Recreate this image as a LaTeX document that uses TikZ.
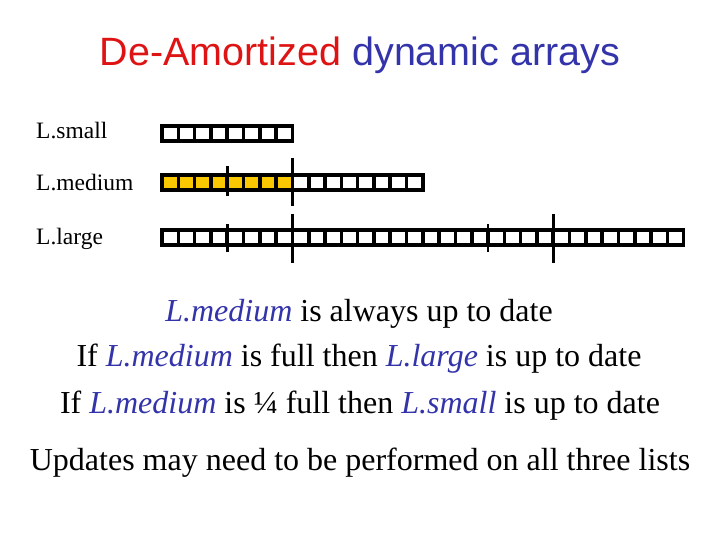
\documentclass[tikz,border=0pt]{standalone}
\usepackage{fontspec}
\setmainfont{Liberation Serif}
\newfontfamily\arialf{Liberation Sans}
\definecolor{tred}{RGB}{222,20,20}
\definecolor{tblue}{RGB}{51,51,170}
\definecolor{cellfill}{RGB}{250,200,0}
\begin{document}
\begin{tikzpicture}[x=1pt,y=-1pt,
  cell/.style={draw=black,line width=3.6pt,fill=white},
  fullcell/.style={cell,fill=cellfill},
  tick/.style={line width=2.6pt},
  lbl/.style={anchor=west,inner sep=0pt,font=\fontsize{23.5}{26}\selectfont},
  body/.style={inner sep=0pt,font=\fontsize{32}{36}\selectfont}]
\useasboundingbox (0,0) rectangle (720,540);
\def\cw{16.3}
\node[inner sep=0pt,font=\arialf\fontsize{39.5}{44}\selectfont] (title) at (360,55) {\textcolor{tred}{De-Amortized} \textcolor{tblue}{dynamic arrays}};
\node[lbl] (ls) at (36,131) {L.small};
\node[lbl] (lm) at (36,183) {L.medium};
\node[lbl] (ll) at (36,239) {L.large};
% small array
\foreach \i in {0,...,7} \draw[cell] (162+\i*\cw,126) rectangle ++(\cw,15);
% medium array
\foreach \i in {0,...,7} \draw[fullcell] (162+\i*\cw,175) rectangle ++(\cw,15);
\foreach \i in {8,...,15} \draw[cell] (162+\i*\cw,175) rectangle ++(\cw,15);
% large array
\foreach \i in {0,...,31} \draw[cell] (162+\i*\cw,230) rectangle ++(\cw,15);
% ticks
\draw[tick] (162+4*\cw,166) -- (162+4*\cw,196);
\draw[tick] (162+8*\cw,158) -- (162+8*\cw,206);
\draw[tick] (162+4*\cw,224) -- (162+4*\cw,252);
\draw[tick] (162+8*\cw,214) -- (162+8*\cw,263);
\draw[tick] (162+20*\cw,224) -- (162+20*\cw,252);
\draw[tick] (162+24*\cw,214) -- (162+24*\cw,263);
\node[body] (t1) at (359,314) {\textcolor{tblue}{\textit{L.medium}} is always up to date};
\node[body] (t2) at (359,359) {If \textcolor{tblue}{\textit{L.medium}} is full then \textcolor{tblue}{\textit{L.large}} is up to date};
\node[body] (t3) at (360,406) {If \textcolor{tblue}{\textit{L.medium}} is ¼ full then \textcolor{tblue}{\textit{L.small}} is up to date};
\node[body] (t4) at (360,463) {Updates may need to be performed on all three lists};
\end{tikzpicture}
\end{document}
